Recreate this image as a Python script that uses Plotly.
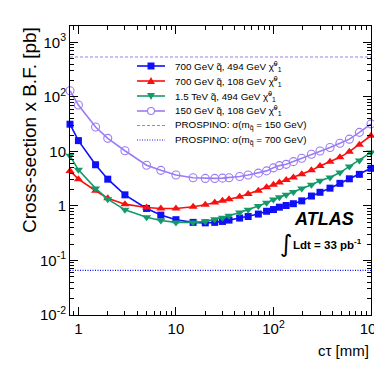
import math
import plotly.graph_objects as go

# ---------------- data ----------------
ctau = [0.82, 1, 1.5, 2, 3, 5, 7, 10, 15, 20, 25, 30, 35, 45, 55, 70, 85, 100,
        115, 135, 160, 195, 245, 300, 380, 480, 600, 760, 1000]
xs_700_494 = [31.6, 15.8, 5.7, 3.1, 1.6, 0.9, 0.68, 0.56, 0.5, 0.49, 0.5, 0.52, 0.55, 0.6,
              0.64, 0.71, 0.8, 0.86, 0.95, 1.02, 1.1, 1.24, 1.52, 1.78, 2.12, 2.6, 3.15, 3.8, 4.9]
xs_700_108 = [4.4, 3.1, 1.9, 1.39, 1.08, 0.94, 0.9, 0.9, 0.97, 1.05, 1.16, 1.24, 1.33, 1.48,
              1.65, 1.9, 2.2, 2.45, 2.7, 3.0, 3.33, 3.8, 4.5, 5.4, 6.5, 7.8, 9.9, 13.3, 19.4]
xs_1500_494 = [8.3, 4.6, 2.1, 1.33, 0.85, 0.62, 0.54, 0.5, 0.5, 0.52, 0.57, 0.61, 0.66, 0.76,
               0.85, 1.0, 1.15, 1.32, 1.45, 1.6, 1.8, 2.1, 2.45, 2.9, 3.33, 4.1, 5.3, 6.8, 9.6]
xs_150_108 = [130, 71, 28, 17.4, 10.3, 5.6, 4.5, 3.7, 3.3, 3.2, 3.2, 3.24, 3.3, 3.47, 3.7,
              4.0, 4.4, 5.0, 5.5, 5.8, 6.5, 7.5, 8.9, 10.2, 11.8, 14.1, 16.8, 22.4, 32]
prospino_150 = 540.0
prospino_700 = 0.066

x_range = [0.82, 1000]
y_range = [0.01, 2000]

x_tickvals = [1, 10, 100, 1000]
x_ticktext = ["1", "10", "10<sup>2</sup>", "10<sup>3</sup>"]
y_tickvals = [0.01, 0.1, 1, 10, 100, 1000]
y_ticktext = ["10<sup>-2</sup>", "10<sup>-1</sup>", "1", "10", "10<sup>2</sup>", "10<sup>3</sup>"]

series_names = [
    "700 GeV q\u0303, 494 GeV \u03c7\u0303<sup>0</sup><sub>1</sub>",
    "700 GeV q\u0303, 108 GeV \u03c7\u0303<sup>0</sup><sub>1</sub>",
    "1.5 TeV q\u0303, 494 GeV \u03c7\u0303<sup>0</sup><sub>1</sub>",
    "150 GeV q\u0303, 108 GeV \u03c7\u0303<sup>0</sup><sub>1</sub>",
]
prospino_names = [
    "PROSPINO: \u03c3(m<sub>q\u0303</sub> = 150 GeV)",
    "PROSPINO: \u03c3(m<sub>q\u0303</sub> = 700 GeV)",
]

# ---------------- styles ----------------
BLUE = "#1010f8"
RED = "#f81010"
GREEN = "#149a6a"
PURPLE = "#9b7cf4"
FONT = "Liberation Sans, Arial, Helvetica, sans-serif"

W, H = 382, 366
L, R, T, B = 62, 19, 18, 59
PW, PH = W - L - R, H - T - B


def px(x):
    return (x - L) / PW


def py(y):
    return (H - B - y) / PH


fig = go.Figure()

styles = [
    (xs_700_494, BLUE, dict(symbol="square", size=7, color=BLUE)),
    (xs_700_108, RED, dict(symbol="triangle-up", size=8, color=RED)),
    (xs_1500_494, GREEN, dict(symbol="triangle-down", size=8, color=GREEN)),
    (xs_150_108, PURPLE, dict(symbol="circle-open", size=8, color=PURPLE, line=dict(width=1.1, color=PURPLE))),
]
for (vals, col, mk), name in zip(styles, series_names):
    fig.add_trace(go.Scatter(x=ctau, y=vals, mode="lines+markers", name=name,
                             line=dict(color=col, width=1.6), marker=mk,
                             cliponaxis=False, showlegend=False))

fig.add_trace(go.Scatter(x=x_range, y=[prospino_150, prospino_150], mode="lines",
                         name=prospino_names[0], showlegend=False,
                         line=dict(color=PURPLE, width=1.2, dash="3px,2px")))
fig.add_trace(go.Scatter(x=x_range, y=[prospino_700, prospino_700], mode="lines",
                         name=prospino_names[1], showlegend=False,
                         line=dict(color=BLUE, width=1.2, dash="1px,1.5px")))


def minor_vals(lo_exp, hi_exp):
    out = []
    for e in range(lo_exp, hi_exp + 1):
        for m in range(2, 10):
            out.append(m * 10 ** e)
    return out


axis_common = dict(type="log", showgrid=False, zeroline=False, showline=True,
                   linecolor="black", linewidth=1, mirror="allticks",
                   ticks="inside", ticklen=8, tickcolor="black", tickwidth=1,
                   tickfont=dict(family=FONT, size=15, color="black"))

fig.update_xaxes(range=[math.log10(x_range[0]), math.log10(x_range[1])],
                 tickmode="array", tickvals=x_tickvals, ticktext=x_ticktext,
                 minor=dict(tickmode="array", tickvals=minor_vals(-1, 2), ticks="inside",
                            ticklen=4, tickcolor="black"),
                 **axis_common)
fig.update_yaxes(range=[math.log10(y_range[0]), math.log10(y_range[1])],
                 tickmode="array", tickvals=y_tickvals, ticktext=y_ticktext,
                 minor=dict(tickmode="array", tickvals=minor_vals(-2, 3), ticks="inside",
                            ticklen=4, tickcolor="black"),
                 **axis_common)

annotations = []
shapes = []

# axis titles
annotations.append(dict(text="Cross-section x B.F. [pb]", textangle=-90, xref="paper", yref="paper",
                        x=px(22), y=py(17), xanchor="center", yanchor="top", showarrow=False,
                        font=dict(family=FONT, size=19, color="black")))
annotations.append(dict(text="c\u03c4 [mm]", xref="paper", yref="paper",
                        x=px(363), y=py(342), xanchor="right", yanchor="middle", showarrow=False,
                        font=dict(family=FONT, size=15, color="black")))

# ATLAS label
annotations.append(dict(text="<b><i>ATLAS</i></b>", xref="paper", yref="paper",
                        x=px(316), y=py(211), xanchor="center", yanchor="middle", showarrow=False,
                        font=dict(family=FONT, size=18, color="black")))
annotations.append(dict(text="\u222b", xref="paper", yref="paper",
                        x=px(278), y=py(236), xanchor="center", yanchor="middle", showarrow=False,
                        font=dict(family="DejaVu Sans", size=24, color="black")))
annotations.append(dict(text="<b>Ldt = 33 pb<sup>-1</sup></b>", xref="paper", yref="paper",
                        x=px(283), y=py(236), xanchor="left", yanchor="middle", showarrow=False,
                        font=dict(family=FONT, size=11.5, color="black")))

# legend (drawn manually to match compact ROOT spacing)
rows = [58, 73, 88, 103, 117.5, 132]
lx0, lx1, lmid, ltext = 129, 157, 143, 165
leg_cols = [BLUE, RED, GREEN, PURPLE]
for i, name in enumerate(series_names + prospino_names):
    yy = py(rows[i])
    annotations.append(dict(text=name, xref="paper", yref="paper", x=px(ltext), y=yy,
                            xanchor="left", yanchor="middle", showarrow=False,
                            font=dict(family=FONT, size=9.8, color="black")))
    if i < 4:
        shapes.append(dict(type="line", xref="paper", yref="paper", x0=px(lx0), x1=px(lx1),
                           y0=yy, y1=yy, line=dict(color=leg_cols[i], width=1.6)))
    elif i == 4:
        shapes.append(dict(type="line", xref="paper", yref="paper", x0=px(lx0), x1=px(lx1),
                           y0=yy, y1=yy, line=dict(color=PURPLE, width=1.2, dash="3px,2px")))
    else:
        shapes.append(dict(type="line", xref="paper", yref="paper", x0=px(lx0), x1=px(lx1),
                           y0=yy, y1=yy, line=dict(color=BLUE, width=1.2, dash="1px,1.5px")))

mk_common = dict(xref="paper", yref="paper", xsizemode="pixel", ysizemode="pixel",
                 xanchor=px(lmid))
shapes.append(dict(type="rect", yanchor=py(rows[0]), x0=-3.5, x1=3.5, y0=-3.5, y1=3.5,
                   fillcolor=BLUE, line=dict(width=0), **mk_common))
shapes.append(dict(type="path", yanchor=py(rows[1]), path="M-4,-3 L4,-3 L0,4 Z",
                   fillcolor=RED, line=dict(width=0), **mk_common))
shapes.append(dict(type="path", yanchor=py(rows[2]), path="M-4,3 L4,3 L0,-4 Z",
                   fillcolor=GREEN, line=dict(width=0), **mk_common))
shapes.append(dict(type="circle", yanchor=py(rows[3]), x0=-3.5, x1=3.5, y0=-3.5, y1=3.5,
                   fillcolor="white", line=dict(color=PURPLE, width=1.1), **mk_common))

fig.update_layout(width=W, height=H, margin=dict(l=L, r=R, t=T, b=B, autoexpand=False),
                  plot_bgcolor="white", paper_bgcolor="white", showlegend=False,
                  annotations=annotations, shapes=shapes,
                  font=dict(family=FONT, color="black"))

fig.write_html("out.html")
